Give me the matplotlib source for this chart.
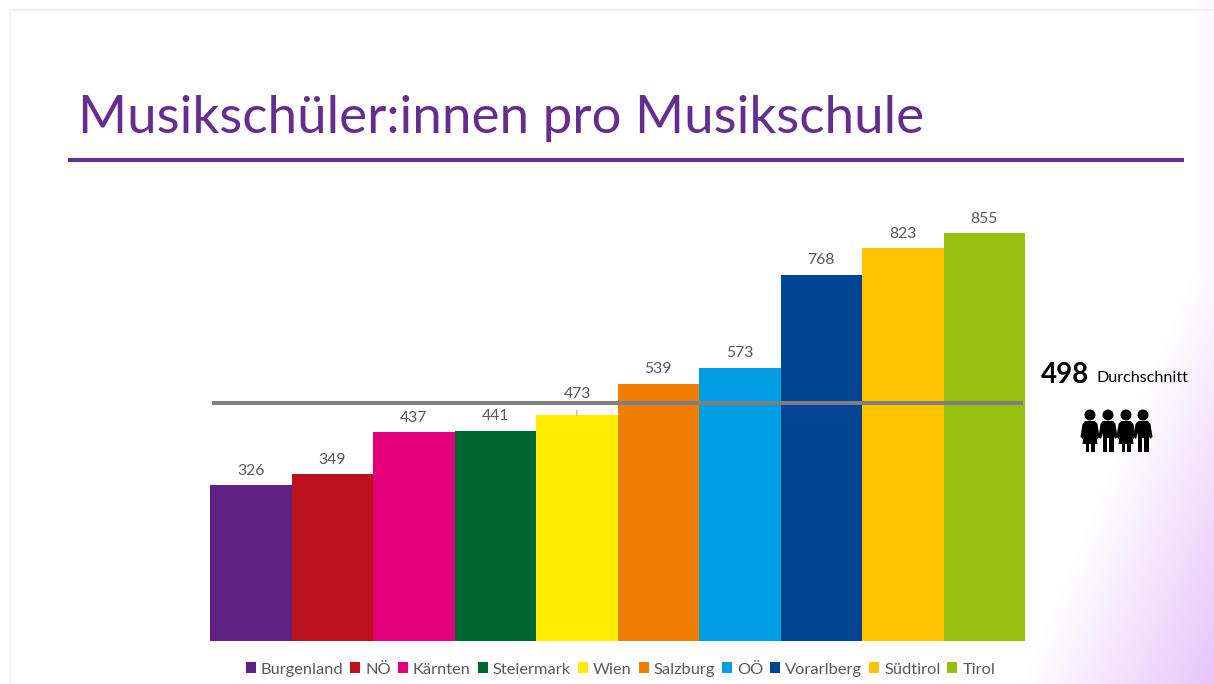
"""
    Musikschueler pro Musikschule - bar chart on a slide background
"""
import numpy as np
import matplotlib
matplotlib.use("Agg")
import matplotlib.pyplot as plt
from matplotlib.patches import Circle, Polygon, Rectangle

### chart data
LAENDER = ["Burgenland", "NÖ", "Kärnten", "Steiermark", "Wien", "Salzburg", "OÖ", "Vorarlberg", "Südtirol", "Tirol"]
SCHUELER = [326, 349, 437, 441, 473, 539, 573, 768, 823, 855]
FARBEN = ["#5F2282", "#BC111E", "#E2007A", "#00662F", "#FFEC00", "#EF7D00", "#009FE3", "#004494", "#FFC300", "#97BF0D"]
DURCHSCHNITT = 498

W, H = 1214, 684
PURPLE = "#662D91"
GREY = "#595959"

plt.rcParams["font.family"] = ["Lato", "DejaVu Sans"]

fig = plt.figure(figsize=(W / 100, H / 100), dpi=100)


def px_axes(x0, y0, x1, y1):
    # axes placed with pixel coords, y counted from the top
    return fig.add_axes([x0 / W, 1 - y1 / H, (x1 - x0) / W, (y1 - y0) / H])


# slide background, pixel coords
bg = fig.add_axes([0, 0, 1, 1])
bg.set_xlim(0, W)
bg.set_ylim(H, 0)
bg.axis("off")

xx, yy = np.meshgrid(np.arange(W), np.arange(H))
t = np.clip(((xx - 1020) * 464 + (yy - 684) * 194) / 503 / 179, 0, 1)
# very faint tint along the right edge further up
t = np.maximum(t, np.clip((xx - 1190) / 24, 0, 1) * 0.1)
rgb = np.ones((H, W, 3))
rgb[..., 0] = 1 - t * (1 - 232 / 255)
rgb[..., 1] = 1 - t * (1 - 195 / 255)
rgb[..., 2] = 1 - t * (1 - 250 / 255)
bg.imshow(rgb, extent=(0, W, H, 0), aspect="auto", zorder=0)

bg.plot([9.5, W], [10, 10], color="#F6EAFC", lw=1.4, zorder=1)
bg.plot([9.5, 9.5], [10, H], color="#F6EAFC", lw=0.9, zorder=1)

# title and rule
bg.text(78, 118, "Musikschüler:innen pro Musikschule", color=PURPLE, fontsize=38.1,
        va="center", ha="left")
bg.add_patch(Rectangle((68, 158), 1116, 4, color=PURPLE, lw=0, zorder=2))

# bars
ax = px_axes(210, 233, 1025, 641)
ax.patch.set_alpha(0)
x = np.arange(len(LAENDER))
bars = ax.bar(x, SCHUELER, width=1.0, color=FARBEN, linewidth=0)
ax.set_xlim(-0.5, len(LAENDER) - 0.5)
ax.set_ylim(0, max(SCHUELER))
ax.axis("off")

ax.plot([-0.47, 9.48], [DURCHSCHNITT, DURCHSCHNITT], color="#7F7F7F", lw=2.9,
        solid_capstyle="butt", zorder=3, clip_on=False)

for i, v in enumerate(SCHUELER):
    if LAENDER[i] == "Wien":
        # label was moved up on the slide, has a leader line
        ax.annotate(str(v), xy=(i, v), xytext=(0.5, 15), textcoords="offset points",
                    ha="center", va="center", fontsize=11.3, color=GREY, annotation_clip=False,
                    arrowprops=dict(arrowstyle="-", color="#BFBFBF", lw=1.0, shrinkA=4, shrinkB=0))
    else:
        ax.annotate(str(v), xy=(i, v), xytext=(0, 10.3), textcoords="offset points",
                    ha="center", va="center", fontsize=11.3, color=GREY, annotation_clip=False)

leg = fig.legend(bars, LAENDER, loc="center", bbox_to_anchor=(620.5 / W, 1 - 669.5 / H), ncol=10,
                 frameon=False, fontsize=11.8, labelcolor=GREY, handlelength=0.61, handleheight=0.65,
                 handletextpad=0.3, columnspacing=0.43, borderpad=0)

# average note
bg.text(1041, 375, str(DURCHSCHNITT), fontsize=20, fontweight="bold", color="black", va="center", ha="left")
bg.text(1096, 378, "Durchschnitt", fontsize=11.6, color="black", va="center", ha="left")


def person(cx, dress):
    bg.add_patch(Circle((cx, 415), 5.5, color="black", lw=0, zorder=4))
    arms = [(cx - 5, 421), (cx + 5, 421), (cx + 7.5, 424), (cx + 9.5, 437), (cx + 7, 439),
            (cx + 4, 430), (cx - 4, 430), (cx - 7, 439), (cx - 9.5, 437), (cx - 7.5, 424)]
    bg.add_patch(Polygon(arms, color="black", lw=0, zorder=4))
    if dress:
        body = [(cx - 5, 424), (cx + 5, 424), (cx + 7.5, 444), (cx - 7.5, 444)]
        legs = (-4.5, 1)
        top = 443
    else:
        body = [(cx - 5.5, 424), (cx + 5.5, 424), (cx + 5.5, 438), (cx - 5.5, 438)]
        legs = (-5.5, 1)
        top = 437
    bg.add_patch(Polygon(body, color="black", lw=0, zorder=4))
    for dx in legs:
        w = 3.5 if dress else 4.5
        bg.add_patch(Rectangle((cx + dx, top), w, 452 - top, color="black", lw=0, zorder=4))


for k, cx in enumerate([1090, 1108, 1126, 1143]):
    person(cx, k % 2 == 0)

fig.savefig("out.png", dpi=100)
